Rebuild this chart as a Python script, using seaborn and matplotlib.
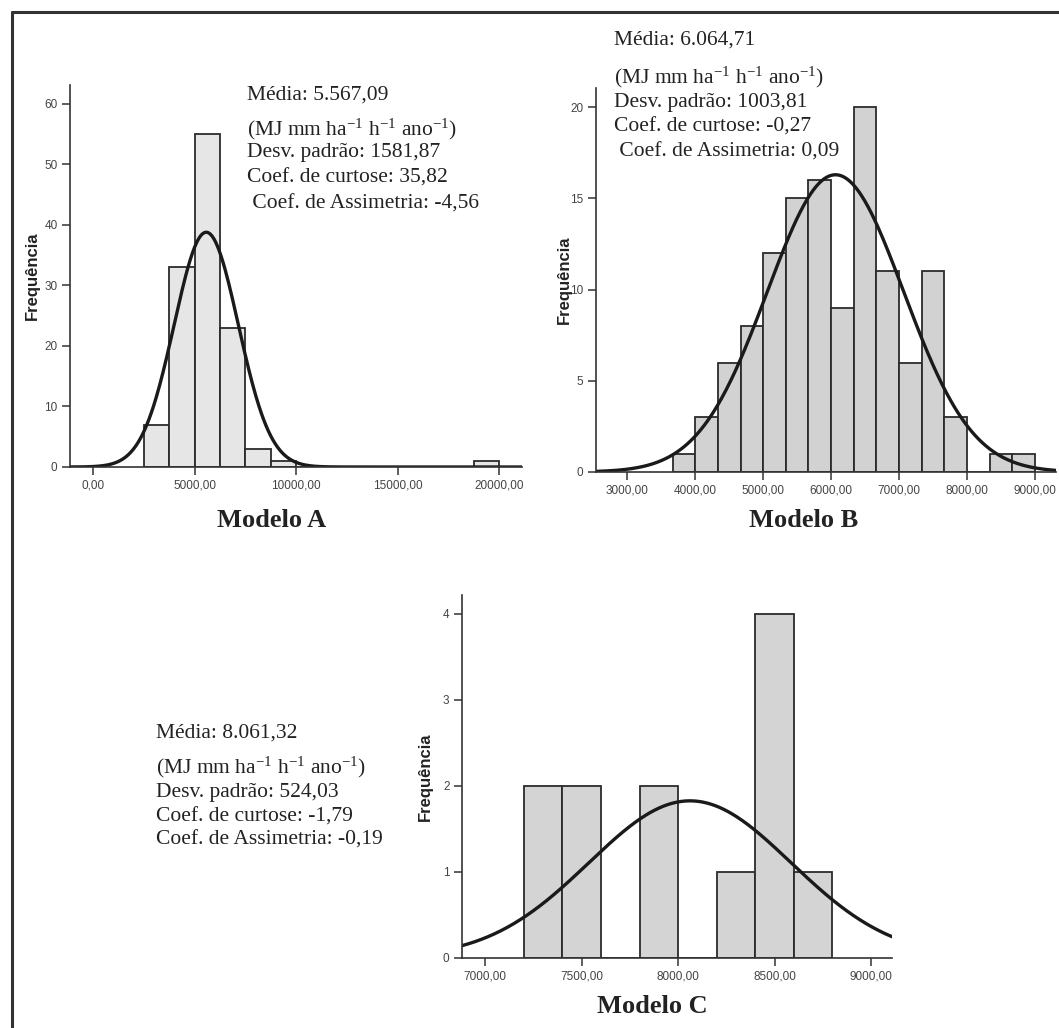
import numpy as np
import pandas as pd
import matplotlib
matplotlib.use("Agg")
import matplotlib.pyplot as plt
from matplotlib.lines import Line2D
import seaborn as sns

edges_a = [2500 + 1250 * k for k in range(15)]
counts_a = [7, 33, 55, 23, 3, 1, 0, 0, 0, 0, 0, 0, 0, 1]
edges_b = [3666.67, 4000, 4333.33, 4666.67, 5000, 5333.33, 5666.67, 6000, 6333.33,
           6666.67, 7000, 7333.33, 7666.67, 8000, 8333.33, 8666.67, 9000]
counts_b = [1, 3, 6, 8, 12, 15, 16, 9, 20, 11, 6, 11, 3, 0, 1, 1]
edges_c = [7200, 7400, 7600, 7800, 8000, 8200, 8400, 8600, 8800]
counts_c = [2, 2, 0, 2, 0, 1, 4, 1]

# estatísticas (curva normal ajustada)
medias = [5567.09, 6064.71, 8061.32]
desvios = [1581.87, 1003.81, 524.03]

xticks_a = [0, 5000, 10000, 15000, 20000]
xticks_b = [3000, 4000, 5000, 6000, 7000, 8000, 9000]
xticks_c = [7000, 7500, 8000, 8500, 9000]
yticks_a = [0, 10, 20, 30, 40, 50, 60]
yticks_b = [0, 5, 10, 15, 20]
yticks_c = [0, 1, 2, 3, 4]

unidade = r"(MJ mm ha$^{-1}$ h$^{-1}$ ano$^{-1}$)"
textos = [
    ["Média: 5.567,09", unidade, "Desv. padrão: 1581,87", "Coef. de curtose: 35,82",
     " Coef. de Assimetria: -4,56"],
    ["Média: 6.064,71", unidade, "Desv. padrão: 1003,81", "Coef. de curtose: -0,27",
     " Coef. de Assimetria: 0,09"],
    ["Média: 8.061,32", unidade, "Desv. padrão: 524,03", "Coef. de curtose: -1,79",
     "Coef. de Assimetria: -0,19"],
]
titulos = ["Modelo A", "Modelo B", "Modelo C"]

sns.set_style("ticks")
plt.rcParams["font.family"] = ["Liberation Sans", "DejaVu Sans"]
plt.rcParams["mathtext.fontset"] = "custom"
plt.rcParams["mathtext.rm"] = "Liberation Serif"
plt.rcParams["mathtext.it"] = "Liberation Serif"

W, H = 1059, 1028
fig = plt.figure(figsize=(W / 100, H / 100), dpi=100)
fig.patch.set_facecolor("white")


def px(x, y):
    return x / W, 1 - y / H


def ax_box(left, top, right, bottom):
    return [left / W, 1 - bottom / H, (right - left) / W, (bottom - top) / H]


def fmt(v):
    return f"{v:.2f}".replace(".", ",")


def painel(box, edges, counts, media, desvio, xlim, ylim, xticks, yticks, cor, lab_x):
    ax = fig.add_axes(box)
    arr = np.array(edges, dtype=float)
    centros = (arr[:-1] + arr[1:]) / 2
    df = pd.DataFrame({"valor": centros, "n": counts})
    sns.histplot(data=df, x="valor", weights="n", bins=list(edges), ax=ax, color=cor,
                 edgecolor="#2b2b2b", linewidth=1.3, alpha=1)
    largura = np.mean(np.diff(arr))
    xs = np.linspace(xlim[0], xlim[1], 400)
    ys = sum(counts) * largura * np.exp(-0.5 * ((xs - media) / desvio) ** 2) / (desvio * np.sqrt(2 * np.pi))
    sns.lineplot(x=xs, y=ys, ax=ax, color="#1a1a1a", linewidth=2.4)
    ax.set_xlim(xlim)
    ax.set_ylim(ylim)
    ax.set_xticks(xticks)
    ax.set_xticklabels([fmt(v) for v in xticks])
    ax.set_yticks(yticks)
    ax.set_yticklabels([str(v) for v in yticks])
    ax.set_xlabel("")
    ax.set_ylabel("Frequência", fontsize=12, fontweight="bold", color="#222222", va="center")
    ax.yaxis.set_label_coords(lab_x, 0.5)
    ax.tick_params(axis="both", labelsize=8.5, colors="#333333", length=6, width=1.1,
                   labelcolor="#444444", pad=3)
    for s in ["top", "right"]:
        ax.spines[s].set_visible(False)
    for s in ["left", "bottom"]:
        ax.spines[s].set_color("#333333")
        ax.spines[s].set_linewidth(1.2)
    ax.set_facecolor("white")
    return ax


painel(ax_box(70, 85, 522, 467), edges_a, counts_a, medias[0], desvios[0],
       (-1150, 21135), (0, 63.1), xticks_a, yticks_a, "#e6e6e6", -38 / 452)
painel(ax_box(596, 88, 1056, 472), edges_b, counts_b, medias[1], desvios[1],
       (2540, 9310), (0, 21.05), xticks_b, yticks_b, "#d2d2d2", -32 / 460)
painel(ax_box(462, 595, 892, 958), edges_c, counts_c, medias[2], desvios[2],
       (6879, 9109), (0, 4.22), xticks_c, yticks_c, "#d4d4d4", -37 / 430)

# blocos de texto
blocos = [(247, [95, 129, 153, 178, 204]),
          (614, [40, 77, 102, 127, 152]),
          (156, [733, 767, 793, 817, 840])]
for (x0, ys_txt), linhas in zip(blocos, textos):
    for y0, linha in zip(ys_txt, linhas):
        fig.text(*px(x0, y0), linha, fontsize=15.5, family="Liberation Serif",
                 color="#222222", ha="left", va="center")

# títulos
for (xt, yt), titulo in zip([(272, 527), (804, 527), (652, 1013)], titulos):
    fig.text(*px(xt, yt), titulo, fontsize=19, family="Liberation Serif",
             fontweight="bold", color="#222222", ha="center", va="baseline")

# moldura
fig.add_artist(Line2D([12 / W, 12 / W], [0, 1 - 12 / H], transform=fig.transFigure,
                      color="#333333", linewidth=2.2))
fig.add_artist(Line2D([12 / W, 1], [1 - 12 / H, 1 - 12 / H], transform=fig.transFigure,
                      color="#333333", linewidth=2.2))

fig.savefig("out.png", dpi=100, facecolor="white")
